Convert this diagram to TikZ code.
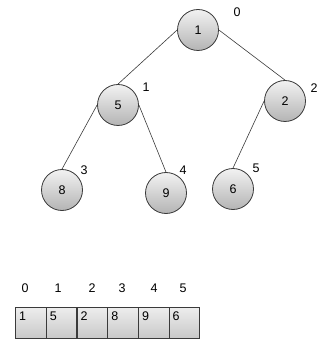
\documentclass[tikz,border=0pt]{standalone}
\usepackage{fontspec}
\setmainfont{Liberation Sans}
\usepackage{tikz}
\usetikzlibrary{positioning}
\definecolor{heapline}{HTML}{3A3A3A}
\definecolor{heaptop}{HTML}{F2F2F2}
\definecolor{heapbot}{HTML}{B4B4B4}
\definecolor{celltop}{HTML}{EDEDED}
\definecolor{cellbot}{HTML}{C8C8C8}

\begin{document}
\begin{tikzpicture}[x=1pt,y=-1pt,font=\fontsize{12.5}{14}\selectfont,
    hnode/.style={circle,draw=heapline,line width=0.8pt,minimum size=41pt,inner sep=0pt,
                  top color=heaptop,bottom color=heapbot},
    hidx/.style={inner sep=0pt},
    hcell/.style={draw=heapline,line width=1.1pt,minimum width=30.7pt,minimum height=31pt,
                  anchor=north west,inner sep=0pt,top color=celltop,bottom color=cellbot},
    hedge/.style={draw=heapline,line width=0.6pt}]
  \useasboundingbox (0,0) rectangle (329,352);
  % tree
  \node[hnode] (n1) at (198,30)  {1};
  \node[hnode] (n5) at (118,105) {5};
  \node[hnode] (n2) at (285,101) {2};
  \node[hnode] (n8) at (62,190)  {8};
  \node[hnode] (n9) at (166,193) {9};
  \node[hnode] (n6) at (233,189) {6};
  \draw[hedge] (n1.west) -- (n5.north);
  \draw[hedge] (n1.east) -- (n2.north);
  \draw[hedge] (n5.west) -- (n8.north);
  \draw[hedge] (n5.east) -- (n9.north);
  \draw[hedge] (n2.west) -- (n6.north);
  % positions
  \node[hidx] (i0) at (237,12)  {0};
  \node[hidx] (i1) at (146,87)  {1};
  \node[hidx] (i2) at (314,88)  {2};
  \node[hidx] (i3) at (84,170)  {3};
  \node[hidx] (i4) at (183,170) {4};
  \node[hidx] (i5) at (256,168) {5};
  % array
  \foreach \v [count=\k from 0] in {1,5,2,8,9,6}{
    \node[hcell,label={[anchor=north west,inner sep=0pt,xshift=4pt,yshift=-5pt]north west:\v}]
      (c\k) at ({15+30.7*\k},307) {};
  }
  \node[hidx] (a0) at (25,288)  {0};
  \node[hidx] (a1) at (58,288)  {1};
  \node[hidx] (a2) at (92,288)  {2};
  \node[hidx] (a3) at (122,288) {3};
  \node[hidx] (a4) at (154,288) {4};
  \node[hidx] (a5) at (183,288) {5};
\end{tikzpicture}
\end{document}
